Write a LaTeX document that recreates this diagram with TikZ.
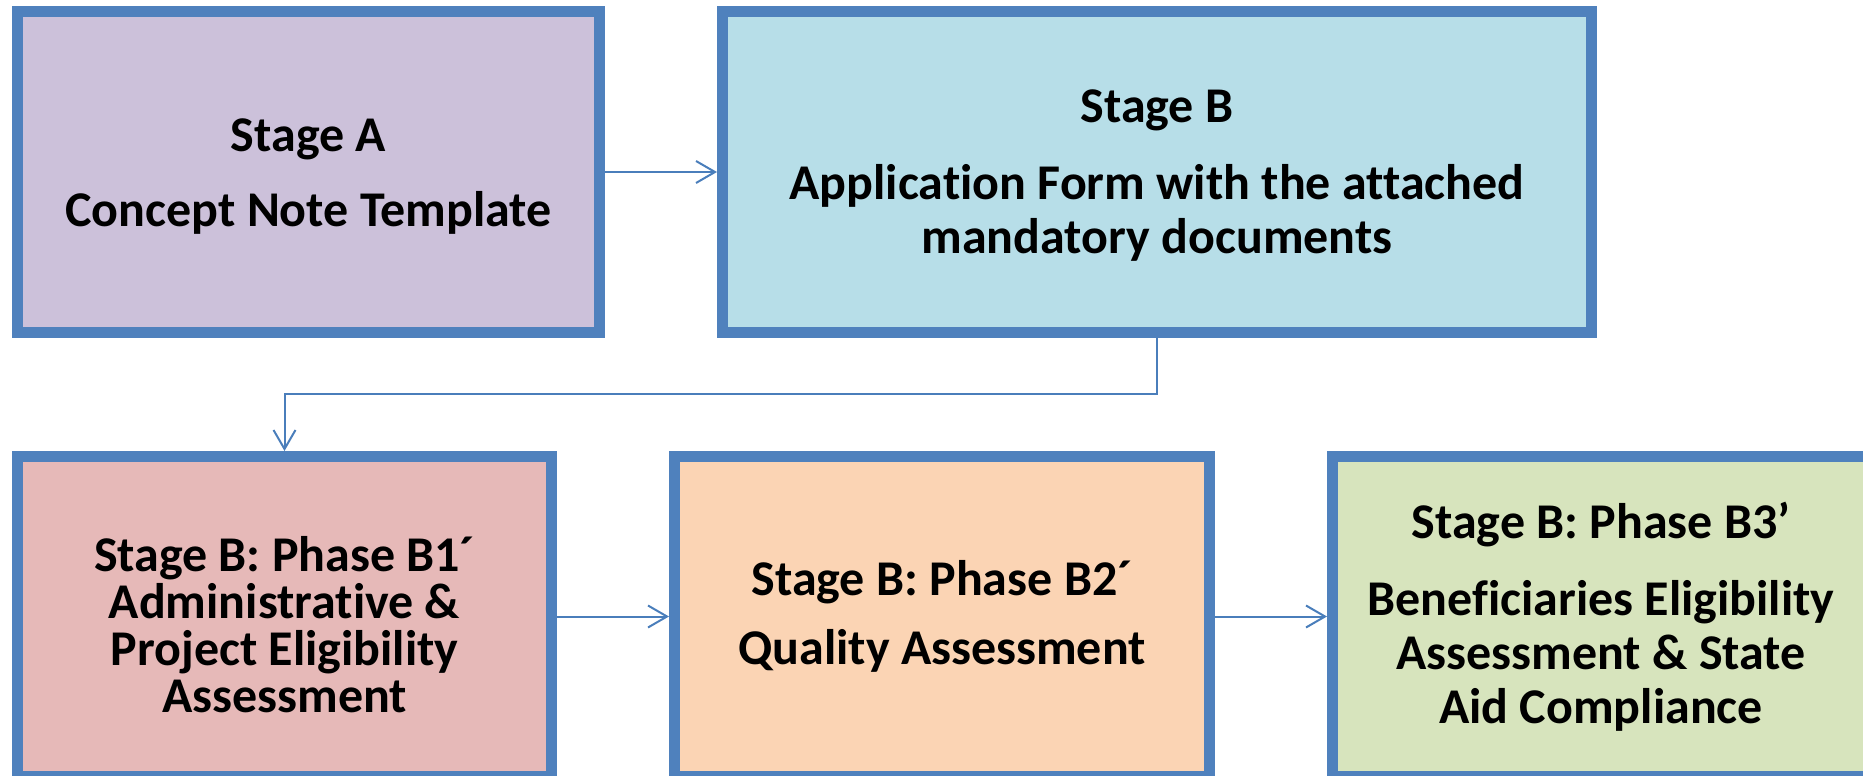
\documentclass[tikz,border=0pt]{standalone}
\usepackage{fontspec}
\setmainfont[Ligatures=NoCommon]{Carlito}
\usetikzlibrary{arrows.meta}
\definecolor{bordblue}{HTML}{4F81BD}
\definecolor{lineblue}{HTML}{4A7EBB}
\definecolor{fillA}{HTML}{CCC1DA}
\definecolor{fillB}{HTML}{B7DEE8}
\definecolor{fillBa}{HTML}{E6B9B8}
\definecolor{fillBb}{HTML}{FBD4B4}
\definecolor{fillBc}{HTML}{D7E4BD}
\tikzset{
  stagebox/.style={draw=bordblue, line width=11pt, rectangle, inner sep=0pt, align=center,
    font=\fontsize{50}{54}\selectfont\bfseries},
  conn/.style={draw=lineblue, line width=2pt, -{Straight Barb[length=19pt,width=22pt,line width=2pt]}}
}
\begin{document}
\begin{tikzpicture}[x=1pt,y=-1pt]
\useasboundingbox (0,0) rectangle (1863,776);
\clip (0,0) rectangle (1863,776);
\node[stagebox, fill=fillA, minimum width=582pt, minimum height=321pt] (A) at (308.5,172)
  {\rule{0pt}{42pt}Stage A\\[21pt]Concept Note Template};
\node[stagebox, fill=fillB, minimum width=869pt, minimum height=321pt] (B) at (1157,172)
  {\rule{0pt}{40pt}Stage B\\[23pt]Application Form with the attached\\mandatory documents};
\node[stagebox, fill=fillBa, minimum width=534pt, minimum height=320pt,
  font=\fontsize{50}{47}\selectfont\bfseries] (B1) at (284.5,616.5)
  {\rule{0pt}{52pt}Stage B: Phase B1´\\Administrative \&\\Project Eligibility\\Assessment};
\node[stagebox, fill=fillBb, minimum width=535pt, minimum height=320pt] (B2) at (942,616.5)
  {Stage B: Phase B2´\\[15pt]Quality Assessment};
\node[stagebox, fill=fillBc, minimum width=537pt, minimum height=320pt] (B3) at (1601,616.5)
  {Stage B: Phase B3’\\[23pt]Beneficiaries Eligibility\\Assessment \& State\\Aid Compliance};
\draw[conn] (A.east) -- (B.west);
\draw[conn] (B.south) -- ++(0,56) coordinate (k) -| (B1.north);
\draw[conn] (B1.east) -- (B2.west);
\draw[conn] (B2.east) -- (B3.west);
\end{tikzpicture}
\end{document}
